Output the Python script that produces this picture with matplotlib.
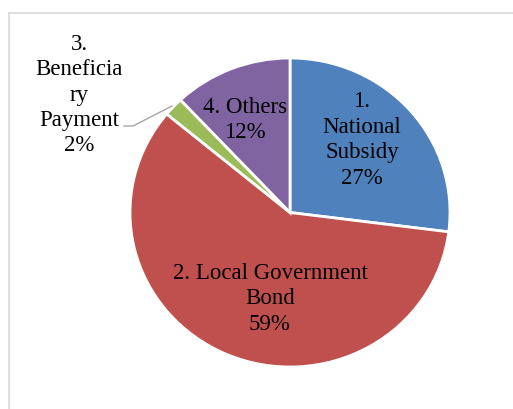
import matplotlib
matplotlib.use('Agg')
import matplotlib.pyplot as plt

# ── Data ──────────────────────────────────────────────────────────────────────
labels = ["1.\nNational\nSubsidy", "2. Local Government\nBond",
          "3.\nBeneficia\nry\nPayment", "4. Others"]
shares = [27, 59, 2, 12]
colors = ["#4F81BD", "#C0504D", "#9BBB59", "#8064A2"]

W, H = 513, 410
fig = plt.figure(figsize=(W / 100, H / 100), dpi=100, facecolor="white")

# pie axes: unit radius, slightly squashed vertically like the source image
CX, CY = 290, H - 213.5
RX, RY = 160, 154.5
ax = fig.add_axes([0, 0, 1, 1])
ax.pie(shares, colors=colors, startangle=90, counterclock=False,
       wedgeprops=dict(edgecolor="white", linewidth=2))
ax.set_aspect('auto')
ax.set_xlim(-CX / RX, (W - CX) / RX)
ax.set_ylim(-CY / RY, (H - CY) / RY)
ax.axis('off')

# overlay in pixel coordinates for frame, labels, leader line
ov = fig.add_axes([0, 0, 1, 1], facecolor='none')
ov.set_xlim(0, W)
ov.set_ylim(0, H)
ov.axis('off')

ov.plot([9, 9], [0, H - 14], color="#D9D9D9", lw=1.2)
ov.plot([9, W], [H - 14, H - 14], color="#D9D9D9", lw=1.2)

FONT = dict(family="Liberation Serif", fontsize=16.5, color="black",
            ha='center', va='center', linespacing=1.28)

pos = [(362, H - 140), (270, H - 299), (79, H - 95), (245, H - 120)]
for (x, y), lab, v in zip(pos, labels, shares):
    ov.text(x, y, f"{lab}\n{v}%", **FONT)

ov.plot([124, 133, 172], [H - 127, H - 127, H - 107], color="#A6A6A6", lw=1)

plt.savefig("out.png", dpi=100, facecolor="white")
